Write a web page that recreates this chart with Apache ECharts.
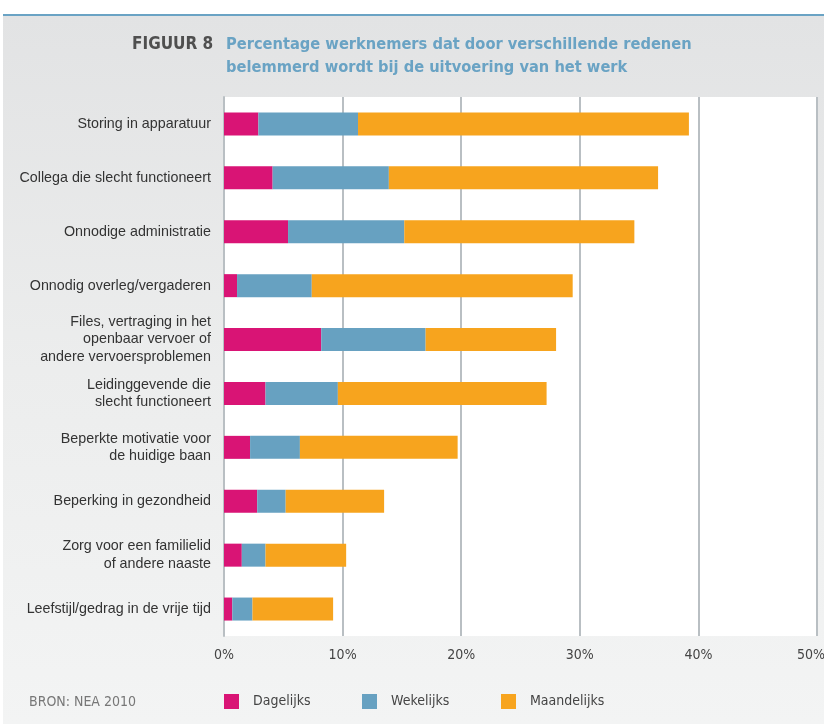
<!DOCTYPE html>
<html>
<head>
<meta charset="utf-8">
<script src="https://cdn.jsdelivr.net/npm/echarts@6/dist/echarts.min.js"></script>
<style>
  html, body { margin: 0; padding: 0; background: #fff; overflow: hidden; }
  #wrap { position: relative; width: 824px; height: 724px; }
  #panel {
    position: absolute; left: 3px; top: 14px; right: 0; bottom: 0;
    border-top: 2px solid #6aa3c4;
    background: linear-gradient(to bottom, #e2e3e4 0%, #eceded 50%, #f3f4f4 100%);
  }
  #chart { position: absolute; left: 0; top: 0; width: 824px; height: 724px; }
</style>
</head>
<body>
<div id="wrap">
  <div id="panel"></div>
  <div id="chart"></div>
</div>
<script>
// Reasons employees are hindered in their work (percent), top to bottom
const categories = [
  'Storing in apparatuur',
  'Collega die slecht functioneert',
  'Onnodige administratie',
  'Onnodig overleg/vergaderen',
  'Files, vertraging in het\nopenbaar vervoer of\nandere vervoersproblemen',
  'Leidinggevende die\nslecht functioneert',
  'Beperkte motivatie voor\nde huidige baan',
  'Beperking in gezondheid',
  'Zorg voor een familielid\nof andere naaste',
  'Leefstijl/gedrag in de vrije tijd'
];
const dagelijks   = [2.9, 4.1, 5.4, 1.1, 8.2, 3.5, 2.2, 2.8, 1.5, 0.7];
const wekelijks   = [8.4, 9.8, 9.8, 6.3, 8.8, 6.1, 4.2, 2.4, 2.0, 1.7];
const maandelijks = [27.9, 22.7, 19.4, 22.0, 11.0, 17.6, 13.3, 8.3, 6.8, 6.8];
const xTicks = [0, 10, 20, 30, 40, 50];

const seriesNames = ['Dagelijks', 'Wekelijks', 'Maandelijks'];
const seriesColors = ['#d91475', '#67a1c1', '#f7a41e'];
const seriesData = [dagelijks, wekelijks, maandelijks];

const narrow = '"DejaVu Sans Condensed", "Liberation Sans", sans-serif';
const plain = '"Liberation Sans", Arial, sans-serif';

const chart = echarts.init(document.getElementById('chart'), null, { renderer: 'canvas' });

const legendLefts = [224, 362, 501];
const xMax = xTicks[xTicks.length - 1];

chart.setOption({
  backgroundColor: 'transparent',
  animation: false,
  title: [
    {
      text: 'FIGUUR 8',
      left: 127, top: 28,
      textStyle: { fontFamily: narrow, fontWeight: 'bold', fontSize: 17, color: '#4f4f4f', lineHeight: 23 }
    },
    {
      text: 'Percentage werknemers dat door verschillende redenen\nbelemmerd wordt bij de uitvoering van het werk',
      left: 221, top: 28,
      textStyle: { fontFamily: narrow, fontWeight: 'bold', fontSize: 16.3, color: '#6aa3c4', lineHeight: 23 }
    },
    {
      text: 'BRON: NEA 2010',
      left: 24, top: 690,
      textStyle: { fontFamily: narrow, fontWeight: 'normal', fontSize: 14, color: '#777' }
    }
  ],
  legend: seriesNames.map((n, i) => ({
    data: [n],
    left: legendLefts[i], top: 694,
    padding: 0,
    icon: 'rect', itemWidth: 15, itemHeight: 15, itemGap: 0,
    textStyle: { fontFamily: narrow, fontSize: 14, color: '#444', padding: [0, 0, 0, 9] },
    selectedMode: false
  })),
  grid: {
    left: 224, right: 7, top: 97, bottom: 88,
    outerBoundsMode: 'none',
    show: true, backgroundColor: '#ffffff', borderWidth: 0
  },
  xAxis: {
    type: 'value', min: xTicks[0], max: xMax, interval: 10,
    axisLine: { show: false },
    axisTick: { show: false },
    splitLine: { show: true, lineStyle: { color: '#b9bfc3', width: 2 } },
    axisLabel: {
      margin: 12, fontFamily: narrow, fontSize: 14, color: '#444',
      formatter: v => v === xMax ? '{m|' + v + '%}' : v + '%',
      rich: { m: { fontFamily: narrow, fontSize: 14, color: '#444', padding: [0, 12, 0, 0] } }
    }
  },
  yAxis: {
    type: 'category', data: categories, inverse: true,
    axisLine: { show: true, lineStyle: { color: '#b9bfc3', width: 2 } },
    axisTick: { show: false },
    axisLabel: {
      margin: 13, fontFamily: plain, fontSize: 14.3, color: '#333',
      lineHeight: 17.5, align: 'right'
    }
  },
  series: seriesNames.map((n, i) => ({
    name: n, type: 'bar', stack: 'total', data: seriesData[i],
    barWidth: 23, itemStyle: { color: seriesColors[i] },
    emphasis: { disabled: true }
  }))
});
</script>
</body>
</html>
